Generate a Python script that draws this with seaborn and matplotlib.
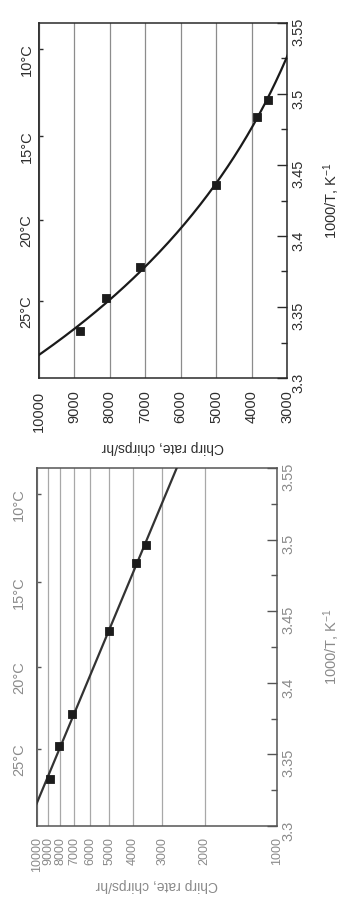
import numpy as np
import pandas as pd
import matplotlib
matplotlib.use("Agg")
import matplotlib.pyplot as plt
import seaborn as sns
from matplotlib.ticker import FixedLocator, MultipleLocator, NullLocator, FuncFormatter

# ---- data ----
inv_T = [3.333, 3.356, 3.378, 3.436, 3.484, 3.496]          # 1000/T, K^-1
chirp_rate = [8850, 8100, 7150, 5000, 3850, 3530]           # chirps/hr
temps_c = [10, 15, 20, 25]                                  # secondary axis labels
lin_rate_ticks = [3000, 4000, 5000, 6000, 7000, 8000, 9000, 10000]
log_rate_ticks = [1000, 2000, 3000, 4000, 5000, 6000, 7000, 8000, 9000, 10000]
invT_ticks = [3.3, 3.35, 3.4, 3.45, 3.5, 3.55]

sns.set_theme(style="white")
plt.rcParams["font.family"] = ["Liberation Sans", "DejaVu Sans"]
plt.rcParams["mathtext.default"] = "regular"

df = pd.DataFrame({"invT": inv_T, "rate": chirp_rate})
# Arrhenius fit (ln rate linear in 1000/T), as drawn in the figure
slope, intercept = np.polyfit(df["invT"], np.log(df["rate"]), 1)
grid_T = np.linspace(invT_ticks[0], invT_ticks[-1], 300)
fit = pd.DataFrame({"invT": grid_T, "rate": np.exp(intercept + slope * grid_T)})

W, H = 342, 899
fig = plt.figure(figsize=(W / 100, H / 100), dpi=100)
fig.patch.set_facecolor("white")


def px_axes(left, top, right, bottom):
    return fig.add_axes([left / W, 1 - bottom / H, (right - left) / W, (bottom - top) / H])


def draw_panel(ax, log, text_color, grid_color, line_color, spine_color,
               xpad, xlabelpad, ylabelpad, tpad, xsize):
    sns.lineplot(data=fit, x="rate", y="invT", sort=False, estimator=None,
                 color=line_color, linewidth=1.6, ax=ax, zorder=3)
    sns.scatterplot(data=df, x="rate", y="invT", marker="s", s=38,
                    color="#1c1c1c", edgecolor="#1c1c1c", linewidth=0.6,
                    ax=ax, zorder=4)
    if log:
        ax.set_xscale("log")
        ax.set_xlim(log_rate_ticks[-1], log_rate_ticks[0])
        ticks = log_rate_ticks
    else:
        ax.set_xlim(lin_rate_ticks[-1], lin_rate_ticks[0])
        ticks = lin_rate_ticks
    ax.xaxis.set_major_locator(FixedLocator(ticks))
    ax.xaxis.set_major_formatter(FuncFormatter(lambda v, p: f"{v:.0f}"))
    ax.xaxis.set_minor_locator(NullLocator())
    ax.tick_params(axis="x", which="both", length=0, labelrotation=90,
                   pad=xpad, labelsize=xsize, labelcolor=text_color)
    ax.xaxis.grid(True, color=grid_color, linewidth=0.9)
    ax.yaxis.grid(False)

    ax.set_ylim(invT_ticks[0], invT_ticks[-1])
    ax.yaxis.set_major_locator(FixedLocator(invT_ticks))
    ax.yaxis.set_minor_locator(MultipleLocator(0.025))
    ax.yaxis.set_major_formatter(FuncFormatter(lambda v, p: f"{v:g}"))
    ax.yaxis.tick_right()
    ax.tick_params(axis="y", which="major", direction="in", length=7, width=1.0,
                   color=spine_color, right=True, left=False, labelright=True,
                   labelleft=False, labelrotation=90, pad=3, labelsize=10.5,
                   labelcolor=text_color)
    ax.tick_params(axis="y", which="minor", direction="in", length=4, width=1.0,
                   color=spine_color, right=True, left=False)
    for sp in ax.spines.values():
        sp.set_color(spine_color)
        sp.set_linewidth(1.1)

    ax.set_xlabel("Chirp rate, chirps/hr", rotation=180, labelpad=xlabelpad,
                  fontsize=10, color=text_color)
    ax.yaxis.set_label_position("right")
    ax.set_ylabel("1000/T, K$^{-1}$", rotation=90, labelpad=ylabelpad,
                  fontsize=10.5, color=text_color)

    sec = ax.secondary_yaxis("left")
    sec.set_yticks([1000 / (273.15 + c) for c in temps_c],
                   labels=[f"{c}°C" for c in temps_c])
    sec.tick_params(direction="in", length=3, width=1.0, color=spine_color,
                    labelrotation=90, pad=tpad, labelsize=10.5,
                    labelcolor=text_color)
    sec.yaxis.set_minor_locator(NullLocator())
    sec.spines["left"].set_color(spine_color)
    sec.spines["left"].set_linewidth(1.1)


ax_lin = px_axes(39, 23, 287, 378)
draw_panel(ax_lin, False, "#2e2e2e", "#8c8c8c", "#1a1a1a", "#2a2a2a",
           xpad=9, xlabelpad=6, ylabelpad=12, tpad=4, xsize=10.5)

ax_log = px_axes(37, 468, 277, 826)
draw_panel(ax_log, True, "#8a8a8a", "#a8a8a8", "#333333", "#555555",
           xpad=8, xlabelpad=4, ylabelpad=19, tpad=8, xsize=9)

fig.savefig("out.png", dpi=100, facecolor="white")
